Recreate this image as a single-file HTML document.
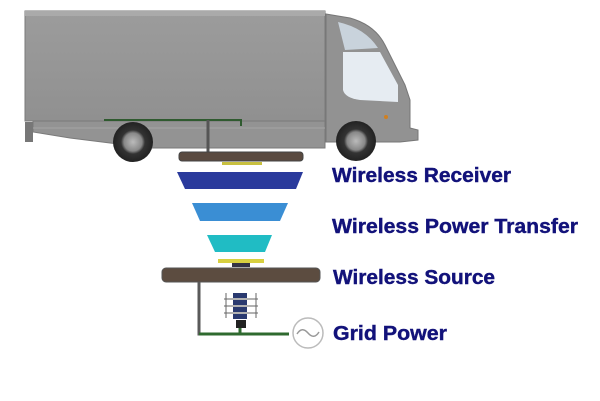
<!DOCTYPE html>
<html><head><style>html,body{margin:0;padding:0;background:#fff}svg{display:block}</style></head>
<body>
<svg width="600" height="401" viewBox="0 0 600 401" xmlns="http://www.w3.org/2000/svg">
<defs>
<linearGradient id="box" x1="0" y1="0" x2="0" y2="1"><stop offset="0" stop-color="#9c9c9c"/><stop offset="1" stop-color="#909090"/></linearGradient>
<radialGradient id="wh"><stop offset="0" stop-color="#bbb"/><stop offset="0.45" stop-color="#888"/><stop offset="0.6" stop-color="#333"/><stop offset="1" stop-color="#222"/></radialGradient>
</defs>
<rect x="25" y="11" width="300" height="110" fill="url(#box)" stroke="#7a7a7a"/>
<rect x="25" y="11" width="300" height="5" fill="#aaa"/>
<path d="M33 121 L325 121 L325 148 L150 148 L70 138 L33 132 Z" fill="#939393" stroke="#7a7a7a"/>
<path d="M33 128 H325" stroke="#a5a5a5" stroke-width="1"/>
<path d="M25 122 h8 v20 h-8z" fill="#777"/>
<path d="M326 14 L350 18 Q375 25 385 45 L405 85 L410 100 L410 128 L418 130 L418 140 L400 142 L326 142 Z" fill="#929292" stroke="#777"/>
<path d="M338 22 Q365 28 378 48 L345 50 Z" fill="#c9d3dc"/>
<path d="M343 52 L380 52 L398 85 L398 102 L360 100 Q345 98 343 90 Z" fill="#e6ecf2"/>
<circle cx="386" cy="117" r="2" fill="#d08020"/>
<circle cx="133" cy="142" r="20" fill="url(#wh)"/>
<circle cx="356" cy="141" r="20" fill="url(#wh)"/>
<path d="M104 120 H241 V126" fill="none" stroke="#2f5a2f" stroke-width="2"/>
<path d="M208 120 V152" stroke="#555" stroke-width="3"/>
<rect x="179" y="152" width="124" height="9" rx="3" fill="#5a4a40" stroke="#444"/>
<rect x="222" y="162" width="40" height="3" fill="#c8c040"/>
<polygon points="177,172 303,172 296,189 185,189" fill="#2a3a9c"/>
<polygon points="192,203 288,203 280,221 200,221" fill="#3a8ed4"/>
<polygon points="207,235 272,235 265,252 215,252" fill="#20bcc4"/>
<rect x="218" y="259" width="46" height="4" fill="#d8d040"/>
<rect x="232" y="263" width="18" height="4" fill="#334"/>
<rect x="162" y="268" width="158" height="14" rx="4" fill="#5c4c40" stroke="#555"/>
<path d="M199 282 V334 H289" fill="none" stroke="#5a5a5a" stroke-width="3"/>
<path d="M199 334 H289" stroke="#2f6a2f" stroke-width="3"/>
<path d="M240 320 V334" stroke="#2f6a2f" stroke-width="3"/>
<g fill="#2a3a70"><rect x="233" y="293" width="14" height="5"/><rect x="233" y="300" width="14" height="5"/><rect x="233" y="307" width="14" height="5"/><rect x="233" y="314" width="14" height="5"/></g>
<g stroke="#666" stroke-width="1"><path d="M224 299 H258 M224 306 H258 M224 313 H258 M226 293 V318 M256 293 V318"/></g>
<rect x="236" y="320" width="10" height="8" fill="#222"/>
<circle cx="308" cy="333" r="15" fill="#fff" stroke="#bbb" stroke-width="1.5"/>
<path d="M297 334 Q302 326 308 333 Q314 340 319 332" fill="none" stroke="#999" stroke-width="1.5"/>
<g font-family="Liberation Sans, sans-serif" font-weight="bold" font-size="20" fill="#12127a" stroke="#12127a" stroke-width="0.4">
<text x="332" y="182" textLength="179" lengthAdjust="spacingAndGlyphs">Wireless Receiver</text>
<text x="332" y="233" textLength="246" lengthAdjust="spacingAndGlyphs">Wireless Power Transfer</text>
<text x="333" y="284" textLength="162" lengthAdjust="spacingAndGlyphs">Wireless Source</text>
<text x="333" y="340" textLength="114" lengthAdjust="spacingAndGlyphs">Grid Power</text>
</g>
</svg>
</body></html>
